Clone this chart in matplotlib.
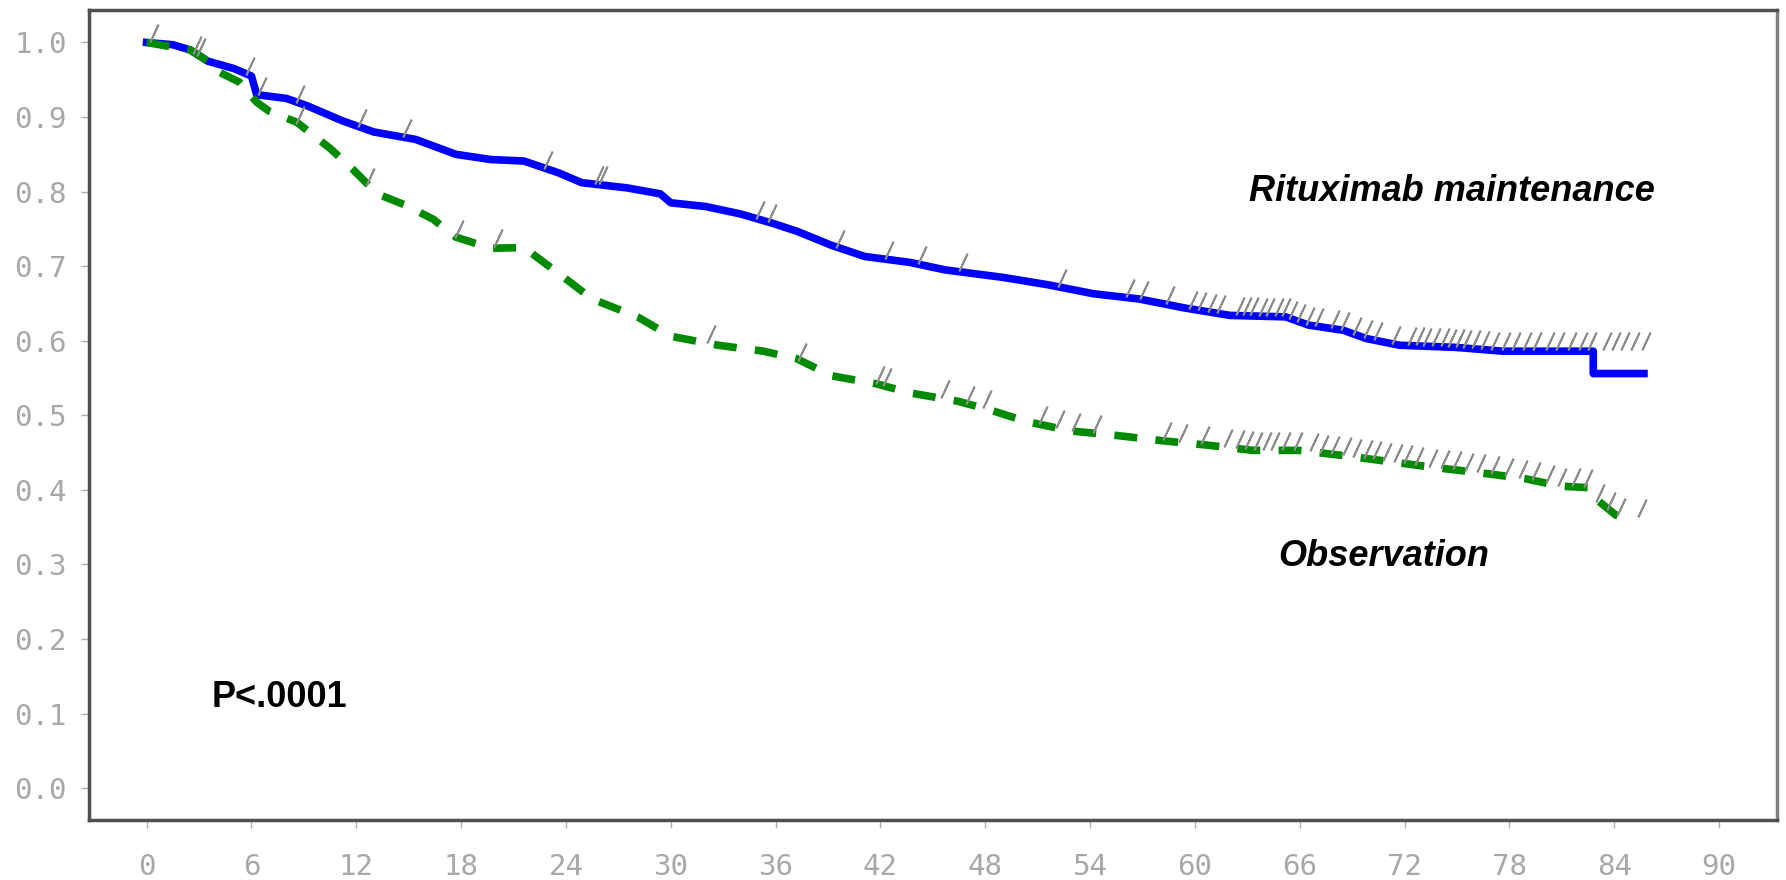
import matplotlib.pyplot as plt
import numpy as np

# survival curves (months, proportion)
ritux_t = [0, 1.5, 2.5, 3.5, 5, 6, 6.3, 8, 9.2, 11.2, 13, 15.4, 17.7, 19.7, 21.6, 23.6,
           24.9, 27.5, 29.4, 30, 32, 34, 35.9, 37.2, 39.2, 41.1, 43.7, 45.7, 49, 51.6,
           54.2, 56.8, 59.4, 62, 65.2, 66.5, 68.5, 69.8, 71.7, 75, 77.6, 82.8, 82.8, 85.7]
ritux_s = [1.0, 0.997, 0.99, 0.975, 0.965, 0.955, 0.93, 0.925, 0.915, 0.895, 0.88, 0.87,
           0.85, 0.843, 0.841, 0.825, 0.812, 0.805, 0.797, 0.785, 0.78, 0.77, 0.757, 0.747,
           0.728, 0.713, 0.705, 0.695, 0.685, 0.675, 0.663, 0.656, 0.644, 0.634, 0.632,
           0.621, 0.614, 0.603, 0.594, 0.591, 0.586, 0.586, 0.556, 0.556]

obs_t = [0, 2.5, 3.5, 4, 5.3, 6.3, 7, 8.6, 10.5, 11.8, 13.2, 14.8, 16.4, 17.7, 19.7, 21.6,
         23.6, 25.5, 28.1, 30, 32.7, 35.3, 37.2, 39.2, 41.8, 43.7, 46.4, 48.3, 50.3, 52.9,
         55.5, 58.1, 60.7, 63.3, 65.9, 68.5, 71.1, 73.7, 76.3, 78.9, 80.9, 82.5, 83.1,
         84.1, 85.0]
obs_s = [1.0, 0.99, 0.975, 0.962, 0.947, 0.92, 0.908, 0.893, 0.858, 0.83, 0.797, 0.782,
         0.763, 0.739, 0.724, 0.725, 0.69, 0.656, 0.632, 0.606, 0.594, 0.586, 0.576, 0.553,
         0.542, 0.53, 0.519, 0.507, 0.492, 0.479, 0.473, 0.466, 0.46, 0.453, 0.453, 0.446,
         0.438, 0.43, 0.423, 0.415, 0.405, 0.403, 0.385, 0.366, 0.362]

# censored patients (months)
ritux_cens = [0.4, 2.9, 3.1, 5.9, 6.6, 8.8, 12.3, 14.9, 23.0, 25.9, 26.1, 35.1, 35.8,
              39.7, 42.5, 44.4, 46.7, 52.4, 56.3, 57.1, 58.6, 59.9, 60.4, 61.0, 61.5,
              62.6, 63.0, 63.4, 63.9, 64.3, 64.8, 65.2, 65.6, 66.1, 66.6, 67.1, 68.0,
              68.6, 69.3, 69.9, 70.5, 71.5, 72.4, 72.9, 73.3, 73.8, 74.3, 74.7, 75.2,
              75.6, 76.1, 76.6, 77.2, 77.8, 78.4, 79.0, 79.6, 80.3, 80.9, 81.6, 82.2,
              82.7, 83.6, 84.1, 84.6, 85.2, 85.8]
obs_cens = [8.8, 12.8, 17.9, 20.1, 32.3, 37.5, 42.0, 42.4, 45.7, 47.1, 48.1, 51.3, 52.3,
            53.2, 54.4, 58.4, 59.3, 60.6, 61.9, 62.6, 63.1, 63.6, 64.1, 64.6, 65.2,
            65.9, 66.8, 67.4, 68.0, 68.7, 69.3, 69.9, 70.4, 71.0, 71.6, 72.2, 72.8,
            73.6, 74.3, 75.0, 75.7, 76.4, 77.2, 78.0, 78.8, 79.5, 80.3, 81.0, 81.8,
            82.5, 83.2, 83.8, 84.4, 85.6]

x_ticks = list(range(0, 91, 6))
y_ticks = [0.0, 0.1, 0.2, 0.3, 0.4, 0.5, 0.6, 0.7, 0.8, 0.9, 1.0]

fig = plt.figure(figsize=(17.86, 8.8), dpi=100)
ax = fig.add_axes([0.0498, 0.068, 0.945, 0.921])

ax.plot(ritux_t, ritux_s, color='#0000ff', lw=5.5, zorder=3)
ax.plot(obs_t, obs_s, color='#008a00', lw=5.5, dashes=(3.0, 2.4), zorder=3)

# censor ticks sit just above the curves
cens_style = dict(ls='none', marker=(2, 2, -25), ms=14, mew=1.3, color='#8c8c8c', zorder=4)
ax.plot(ritux_cens, np.interp(ritux_cens, ritux_t[:-2], ritux_s[:-2]) + 0.013, **cens_style)
ax.plot(obs_cens, np.interp(obs_cens, obs_t, obs_s) + 0.013, **cens_style)

ax.text(74.7, 0.80, 'Rituximab maintenance', fontsize=26, fontweight='bold', fontstyle='italic',
        ha='center', va='center', family='Liberation Sans')
ax.text(70.8, 0.311, 'Observation', fontsize=26, fontweight='bold', fontstyle='italic',
        ha='center', va='center', family='Liberation Sans')
ax.text(7.6, 0.122, 'P<.0001', fontsize=26, fontweight='bold', ha='center', va='center',
        family='Liberation Sans')

ax.set_xlim(-3.3, 93.3)
ax.set_ylim(-0.043, 1.044)
ax.set_xticks(x_ticks)
ax.set_xticklabels([str(v) for v in x_ticks], family='DejaVu Sans Mono')
ax.set_yticks(y_ticks)
ax.set_yticklabels(['%.1f' % v for v in y_ticks], family='DejaVu Sans Mono')
ax.tick_params(axis='x', length=6, width=1, color='#b0b0b0', pad=18, labelsize=21, labelcolor='#a8a8a8')
ax.tick_params(axis='y', length=6, width=1, color='#b0b0b0', pad=10, labelsize=21, labelcolor='#a8a8a8')

for side in ['left', 'bottom', 'top']:
    ax.spines[side].set_color('#505050')
    ax.spines[side].set_linewidth(2.5)
ax.spines['right'].set_color('#808080')
ax.spines['right'].set_linewidth(2.5)

fig.savefig('out.png', dpi=100)
